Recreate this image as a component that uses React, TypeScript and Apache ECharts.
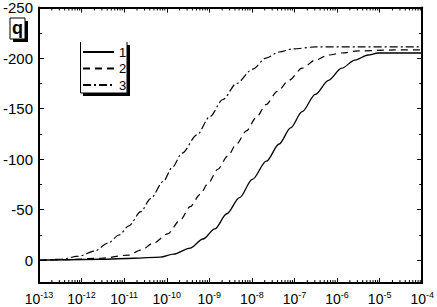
import React, { useEffect, useRef } from "react";
import * as echarts from "echarts";

// log10 of concentration (x) and q values (plotted negative, axis inverted)
const c1Exp = [-13.0, -11.54, -10.77, -10.15, -9.84, -9.45, -9.15, -8.87, -8.59, -8.29, -7.99, -7.66, -7.36, -7.09, -6.82, -6.51, -6.2, -5.89, -5.58, -5.27, -5.04, -4.6, -4.0];
const c1Val = [0, 1, 2, 3, 6, 12, 21, 31, 46, 62, 80, 98, 115, 131, 147, 164, 178, 190, 198, 203, 205, 205, 205];

const c2Exp = [-13.0, -12.47, -11.54, -10.91, -10.61, -10.31, -9.98, -9.68, -9.45, -9.22, -9.03, -8.8, -8.57, -8.36, -8.13, -7.9, -7.67, -7.4, -7.13, -6.82, -6.51, -6.2, -5.89, -5.51, -4.65, -4.0];
const c2Val = [0, 0.5, 2, 5, 10, 17, 26, 40, 53, 65, 76, 90, 103, 115, 128, 141, 154, 167, 178, 190, 198, 203, 205, 207, 208, 208];

const c3Exp = [-13.0, -12.47, -12.07, -11.7, -11.38, -11.12, -10.89, -10.61, -10.38, -10.08, -9.87, -9.64, -9.29, -8.99, -8.68, -8.36, -7.98, -7.67, -7.36, -7.05, -6.51, -5.5, -4.0];
const c3Val = [0, 1, 4, 9, 17, 25, 34, 48, 61, 78, 92, 106, 124, 142, 159, 175, 189, 200, 206, 209, 211, 211, 211];

const seriesNames = ["1", "2", "3"];
const Y_MIN = -250;
const Y_MAX = 22.5;
const X_MIN_EXP = -13;
const X_MAX_EXP = -4;

const toPairs = (ex: number[], vals: number[]) => ex.map((e, i) => [Math.pow(10, e), -vals[i]]);

const FONT = "'Liberation Sans', Arial, sans-serif";

export default function App() {
  const ref = useRef<HTMLDivElement>(null);
  useEffect(() => {
    if (!ref.current) return;
    const chart = echarts.init(ref.current, undefined, { renderer: "svg" });

    const minorTicks: number[][] = [];
    for (let n = X_MIN_EXP; n < X_MAX_EXP; n++) {
      for (let k = 2; k <= 9; k++) minorTicks.push([k * Math.pow(10, n), 0]);
    }

    const yBase = {
      type: "value",
      inverse: true,
      min: Y_MIN,
      max: Y_MAX,
      splitLine: { show: false },
    };
    const xBase = {
      type: "log",
      logBase: 10,
      min: Math.pow(10, X_MIN_EXP),
      max: Math.pow(10, X_MAX_EXP),
      splitLine: { show: false },
      minorTick: { show: false },
    };

    const option: any = {
      animation: false,
      backgroundColor: "#fff",
      grid: { left: 37, right: 12, top: 6, bottom: 24 },
      xAxis: [
        {
          ...xBase,
          position: "bottom",
          axisLine: { show: true, onZero: false, lineStyle: { color: "#000", width: 2 } },
          axisTick: { show: true, inside: true, length: 5, lineStyle: { color: "#000", width: 1 } },
          axisLabel: {
            margin: 7,
            color: "#000",
            formatter: (v: number) => `{b|10}{s|${Math.round(Math.log10(v))}}`,
            rich: {
              b: { fontSize: 14, fontFamily: FONT, color: "#000" },
              s: { fontSize: 9, fontFamily: FONT, color: "#000", padding: [0, 0, 8, 0] },
            },
          },
        },
        {
          ...xBase,
          position: "top",
          axisLine: { show: true, onZero: false, lineStyle: { color: "#000", width: 2 } },
          axisTick: { show: true, inside: true, length: 5, lineStyle: { color: "#000", width: 1 } },
          axisLabel: { show: false },
        },
      ],
      yAxis: [
        {
          ...yBase,
          position: "left",
          interval: 50,
          axisLine: { show: true, onZero: false, lineStyle: { color: "#000", width: 2 } },
          axisTick: { show: true, inside: true, length: 5, lineStyle: { color: "#000", width: 1 } },
          axisLabel: {
            margin: 6,
            color: "#000",
            fontSize: 15,
            fontFamily: FONT,
            formatter: (v: number) => (Math.abs(v % 50) < 1e-9 && v <= 0 ? String(v) : ""),
          },
        },
        {
          ...yBase,
          position: "left",
          interval: 25,
          axisLine: { show: false },
          axisTick: { show: true, inside: true, length: 3, lineStyle: { color: "#000", width: 1 } },
          axisLabel: { show: false },
        },
        {
          ...yBase,
          position: "right",
          interval: 50,
          axisLine: { show: true, onZero: false, lineStyle: { color: "#000", width: 2 } },
          axisTick: { show: true, inside: true, length: 5, lineStyle: { color: "#000", width: 1 } },
          axisLabel: { show: false },
        },
        {
          ...yBase,
          position: "right",
          interval: 25,
          axisLine: { show: false },
          axisTick: { show: true, inside: true, length: 3, lineStyle: { color: "#000", width: 1 } },
          axisLabel: { show: false },
        },
      ],
      legend: {
        data: seriesNames,
        orient: "vertical",
        left: 82,
        top: 45.5,
        padding: 0,
        itemWidth: 31,
        itemHeight: 10,
        itemGap: 3.5,
        itemStyle: { opacity: 0 },
        textStyle: { color: "#000", fontSize: 13, fontFamily: FONT, lineHeight: 13 },
        selectedMode: false,
      },
      graphic: [
        // q label box
        { type: "rect", shape: { x: 13, y: 21, width: 15, height: 21 }, style: { fill: "#000" }, z: 100 },
        { type: "rect", shape: { x: 10, y: 18, width: 15, height: 21 }, style: { fill: "#fff", stroke: "#000", lineWidth: 1 }, z: 101 },
        {
          type: "text",
          x: 17.5,
          y: 28,
          style: { text: "q", fill: "#000", font: `bold 18px ${FONT}`, align: "center", verticalAlign: "middle" },
          z: 102,
        },
        // legend frame with shadow
        { type: "rect", shape: { x: 127, y: 45, width: 3, height: 51 }, style: { fill: "#000" }, z: 100 },
        { type: "rect", shape: { x: 83, y: 93, width: 47, height: 3 }, style: { fill: "#000" }, z: 100 },
        {
          type: "polyline",
          shape: { points: [[80.5, 42], [80.5, 93], [127, 93], [127, 42]] },
          style: { stroke: "#000", lineWidth: 1, fill: null },
          z: 101,
        },
      ],
      series: [
        {
          name: "1",
          type: "line",
          data: toPairs(c1Exp, c1Val),
          symbol: "none",
          showSymbol: false,
          smooth: 0.3,
          smoothMonotone: "x",
          lineStyle: { color: "#000", width: 1.3, type: "solid" },
          itemStyle: { color: "#000" },
        },
        {
          name: "2",
          type: "line",
          data: toPairs(c2Exp, c2Val),
          symbol: "none",
          showSymbol: false,
          smooth: 0.3,
          smoothMonotone: "x",
          lineStyle: { color: "#000", width: 1.2, type: [7, 5] },
          itemStyle: { color: "#000" },
        },
        {
          name: "3",
          type: "line",
          data: toPairs(c3Exp, c3Val),
          symbol: "none",
          showSymbol: false,
          smooth: 0.3,
          smoothMonotone: "x",
          lineStyle: { color: "#000", width: 1.2, type: [8, 3, 2, 3] },
          itemStyle: { color: "#000" },
        },
        {
          name: "minorTicks",
          type: "custom",
          silent: true,
          data: minorTicks,
          renderItem: (params: any, api: any) => {
            const x = api.value(0);
            const pb = api.coord([x, Y_MAX]);
            const pt = api.coord([x, Y_MIN]);
            return {
              type: "group",
              children: [
                { type: "line", shape: { x1: pb[0], y1: pb[1], x2: pb[0], y2: pb[1] - 3 }, style: { stroke: "#000", lineWidth: 1 } },
                { type: "line", shape: { x1: pt[0], y1: pt[1], x2: pt[0], y2: pt[1] + 3 }, style: { stroke: "#000", lineWidth: 1 } },
              ],
            };
          },
        },
      ],
    };
    chart.setOption(option);
    return () => chart.dispose();
  }, []);
  return <div ref={ref} style={{ position: "fixed", left: 0, top: 0, width: 437, height: 307 }} />;
}
